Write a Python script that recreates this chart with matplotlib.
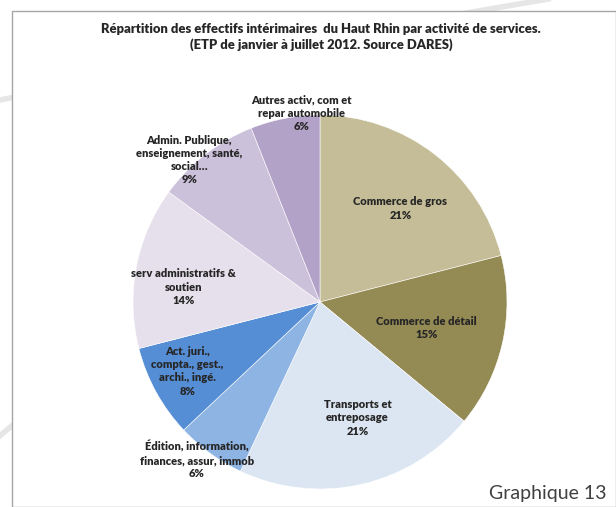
import numpy as np
import matplotlib
matplotlib.use('Agg')
import matplotlib.pyplot as plt

plt.rcParams['font.family'] = ['Lato', 'DejaVu Sans']

labels = ['Commerce de gros', 'Commerce de détail', 'Transports et\nentreposage',
          'Édition, information,\nfinances, assur, immob',
          'Act. juri.,\ncompta., gest.,\narchi., ingé.',
          'serv administratifs &\nsoutien',
          'Admin. Publique,\nenseignement, santé,\nsocial…',
          'Autres activ, com et\nrepar automobile']
shares = [21, 15, 21, 6, 8, 14, 9, 6]
colors = ['#C4BD97', '#948A54', '#DCE6F2', '#8EB4E3', '#558ED5',
          '#E6E0EC', '#CCC1DA', '#B3A2C7']
# label centres, relative to the pie (radius 1)
label_pos = [(0.43, 0.50), (0.57, -0.14), (0.20, -0.62), (-0.66, -0.845),
             (-0.71, -0.37), (-0.73, 0.08), (-0.70, 0.76), (-0.10, 1.01)]

W, H = 616, 507
fig = plt.figure(figsize=(W / 100, H / 100), dpi=100)

# decorative background lines and frame
bg = fig.add_axes([0, 0, 1, 1])
bg.set_xlim(0, W)
bg.set_ylim(H, 0)
bg.axis('off')
bg.plot([-5, 250, 560], [101, 50, -3], color='#E6E6E6', lw=4, zorder=0)
bg.plot([-5, 14], [440, 424], color='#E6E6E6', lw=4, zorder=0)
bg.add_patch(plt.Rectangle((12, 11), W - 12, H - 11, facecolor='white',
                           edgecolor='#A6A6A6', lw=1, zorder=1))

bg.text(321, 37, 'Répartition des effectifs intérimaires  du Haut Rhin par activité de services.\n'
        '(ETP de janvier à juillet 2012. Source DARES)',
        ha='center', va='center', fontsize=9.4, fontweight='heavy',
        color='#262626', linespacing=1.25, zorder=3)
bg.text(548, 494, 'Graphique 13', ha='center', va='center', fontsize=14,
        fontweight='normal', color='#404040', zorder=3)

cx, cy, r = 320, 302, 187
ax = fig.add_axes([(cx - r) / W, (H - cy - r) / H, 2 * r / W, 2 * r / H])
ax.pie(shares, colors=colors, startangle=90, counterclock=False, radius=1,
       wedgeprops=dict(linewidth=0.4, edgecolor='white'))
ax.set_xlim(-1, 1)
ax.set_ylim(-1, 1)
ax.set_aspect('auto')

for lab, s, (x, y) in zip(labels, shares, label_pos):
    ax.text(x, y, f'{lab}\n{s}%', ha='center', va='center', fontsize=8,
            fontweight='heavy', color='#262626', linespacing=1.25,
            clip_on=False)

fig.savefig('out.png', dpi=100)
